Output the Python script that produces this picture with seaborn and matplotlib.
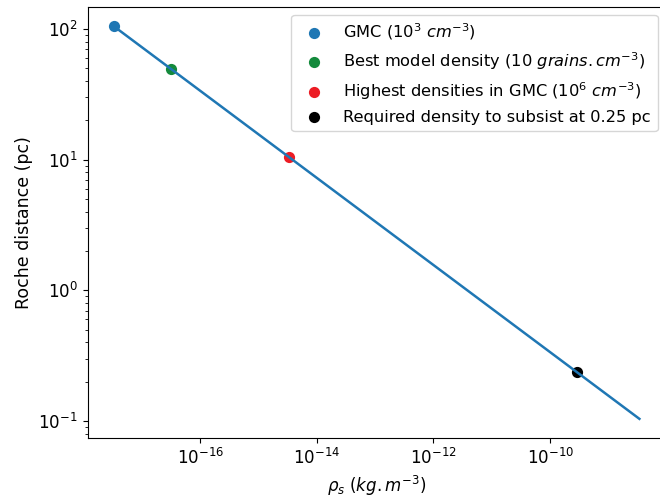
import matplotlib
matplotlib.use('Agg')
import matplotlib.pyplot as plt
from matplotlib.ticker import FixedLocator, NullLocator
import seaborn as sns

# Roche distance curve (log-log straight line, endpoints)
rho_line = [3.3e-18, 3.4e-9]
dist_line = [105.0, 0.104]

# highlighted densities
point_rho = [3.3e-18, 3.1e-17, 3.3e-15, 2.9e-10]
point_dist = [105.0, 49.5, 10.5, 0.236]
point_labels = [r'GMC ($10^3\ cm^{-3}$)',
                r'Best model density (10 $grains.cm^{-3}$)',
                r'Highest densities in GMC ($10^6\ cm^{-3}$)',
                'Required density to subsist at 0.25 pc']
point_colors = ['#1f77b4', '#148a3c', '#ec1c24', 'black']

x_ticks = [1e-16, 1e-14, 1e-12, 1e-10]


def main():
    fig = plt.figure(figsize=(6.6, 5.01), dpi=100)
    ax = fig.add_axes([0.1326, 0.1248, 0.876, 0.862])
    ax.set_xscale('log')
    ax.set_yscale('log')

    sns.lineplot(x=rho_line, y=dist_line, color='#1f77b4', linewidth=1.8, ax=ax)
    for r, d, lab, c in zip(point_rho, point_dist, point_labels, point_colors):
        sns.scatterplot(x=[r], y=[d], color=c, label=lab, s=65,
                        linewidth=0, ax=ax)

    ax.xaxis.set_major_locator(FixedLocator(x_ticks))
    ax.xaxis.set_minor_locator(NullLocator())

    ax.set_xlabel(r'$\rho_s$ $(kg.m^{-3})$', fontsize=12)
    ax.set_ylabel('Roche distance (pc)', fontsize=12.5)
    ax.tick_params(labelsize=12)
    ax.legend(loc='upper right', fontsize=11.7)

    fig.savefig('out.png', dpi=100)
    plt.close(fig)


if __name__ == "__main__":
    main()
